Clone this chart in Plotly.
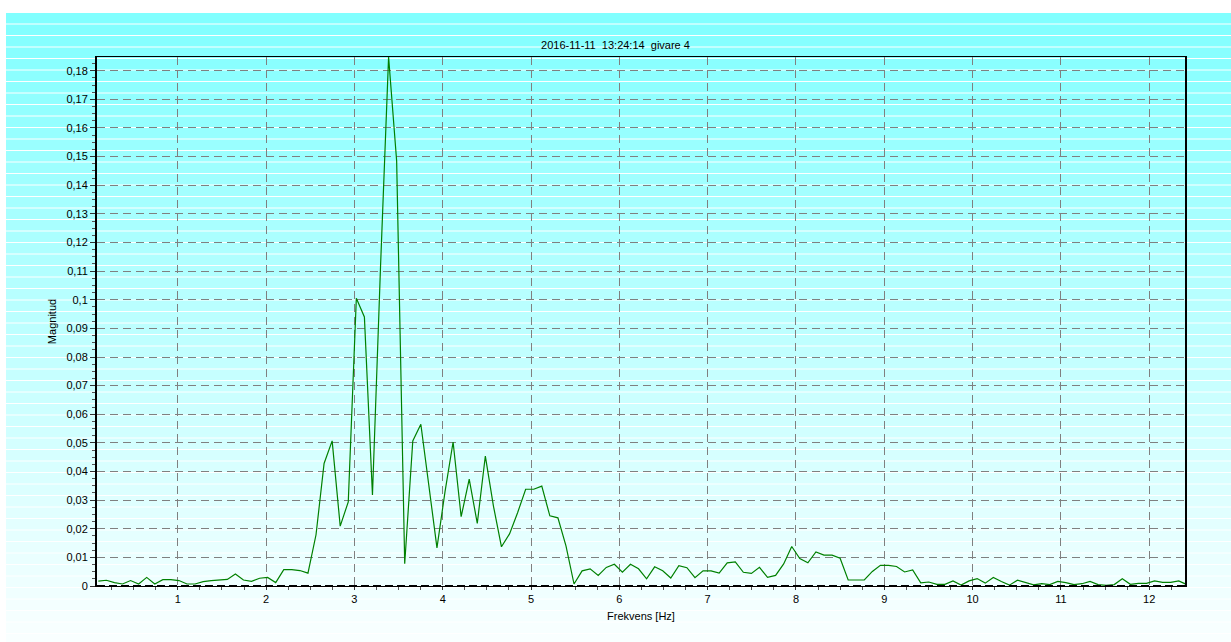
import plotly.graph_objects as go

# ---------------- data ----------------
title_text = "2016-11-11  13:24:14  givare 4"
x_title = "Frekvens [Hz]"
y_title = "Magnitud"

freq_start = 0.10      # Hz, first FFT bin shown
freq_step = 0.0913     # Hz, bin spacing

magnitude = [
    0.0017, 0.0020, 0.0012, 0.0007, 0.0019, 0.0007, 0.0030, 0.0007, 0.0022, 0.0022,
    0.0019, 0.0007, 0.0007, 0.0015, 0.0019, 0.0020, 0.0023, 0.0042, 0.0021, 0.0016,
    0.0027, 0.0030, 0.0012, 0.0057, 0.0057, 0.0054, 0.0045, 0.0179, 0.0428, 0.0507,
    0.0209, 0.0294, 0.1005, 0.0940, 0.0318, 0.1115, 0.1848, 0.1485, 0.0078, 0.0507,
    0.0565, 0.0350, 0.0133, 0.0330, 0.0503, 0.0242, 0.0373, 0.0219, 0.0454, 0.0280,
    0.0137, 0.0182, 0.0256, 0.0338, 0.0338, 0.0349, 0.0245, 0.0238, 0.0140, 0.0007,
    0.0053, 0.0060, 0.0037, 0.0065, 0.0076, 0.0048, 0.0076, 0.0060, 0.0025, 0.0067,
    0.0053, 0.0028, 0.0071, 0.0064, 0.0029, 0.0053, 0.0053, 0.0045, 0.0081, 0.0084,
    0.0048, 0.0044, 0.0065, 0.0030, 0.0037, 0.0077, 0.0138, 0.0096, 0.0081, 0.0119,
    0.0108, 0.0108, 0.0097, 0.0021, 0.0021, 0.0021, 0.0051, 0.0072, 0.0072, 0.0068,
    0.0049, 0.0056, 0.0011, 0.0014, 0.0006, 0.0006, 0.0018, 0.0003, 0.0018, 0.0026,
    0.0010, 0.0030, 0.0016, 0.0003, 0.0020, 0.0012, 0.0004, 0.0008, 0.0005, 0.0016,
    0.0012, 0.0005, 0.0008, 0.0016, 0.0005, 0.0002, 0.0005, 0.0025, 0.0006, 0.0009,
    0.0009, 0.0018, 0.0013, 0.0013, 0.0018, 0.0005,
]
frequency = [round(freq_start + i * freq_step, 4) for i in range(len(magnitude))]

x_tickvals = list(range(1, 13))
y_tickvals = [round(0.01 * k, 2) for k in range(19)]

# ---------------- layout geometry ----------------
W, H = 1231, 642
L, R, T, B = 97, 46, 57, 56
pw, ph = W - L - R, H - T - B


def px_to_paper_x(px):
    return (px - L) / pw


def px_to_paper_y(py):
    return (H - B - py) / ph


# banded cyan -> white background with thin white separators
shapes = []
band_h = 11.5
top = 12.0
while top < H:
    mid = top + band_h / 2
    frac = min(max((mid - 12) / (H - 12), 0), 1)
    r = int(round(128 + (250 - 128) * frac))
    shapes.append(dict(
        type="rect", xref="paper", yref="paper",
        x0=px_to_paper_x(6), x1=px_to_paper_x(W + 2),
        y0=px_to_paper_y(min(top + band_h, H + 2)), y1=px_to_paper_y(top + 1),
        fillcolor=f"rgb({r},255,255)", line=dict(width=0), layer="below",
    ))
    top += band_h

# dashed black line along the zero level
shapes.append(dict(
    type="line", xref="paper", yref="y", x0=0, x1=1, y0=0, y1=0,
    line=dict(color="black", width=2, dash="8px,4px"), layer="above",
))

fig = go.Figure()
fig.add_trace(go.Scatter(
    x=frequency, y=magnitude, mode="lines",
    line=dict(color="#008000", width=1.2),
    hoverinfo="x+y", showlegend=False,
))

font_family = "Liberation Sans, Arial, sans-serif"
grid_color = "#808080"

fig.update_layout(
    width=W, height=H,
    margin=dict(l=L, r=R, t=T, b=B, pad=0),
    paper_bgcolor="white",
    plot_bgcolor="rgba(0,0,0,0)",
    separators=", ",
    font=dict(family=font_family, size=11, color="black"),
    title=dict(text=title_text, x=0.5, xref="container", y=1 - 45 / H,
               yref="container", xanchor="center", yanchor="middle",
               font=dict(size=11, color="black")),
    shapes=shapes,
    showlegend=False,
)

fig.update_xaxes(
    range=[0.085, 12.405],
    tickmode="array", tickvals=x_tickvals,
    ticks="outside", ticklen=3, tickcolor="#333333",
    showgrid=True, gridcolor=grid_color, gridwidth=1, griddash="8px,5px",
    zeroline=False,
    showline=True, linecolor="black", linewidth=1, mirror=True,
    minor=dict(dtick=0.25, tick0=0, ticks="outside", ticklen=3,
               tickcolor="#555555", showgrid=False),
    title=dict(text=x_title, standoff=8, font=dict(size=11)),
    tickfont=dict(size=11),
)

fig.update_yaxes(
    range=[0, 0.1848],
    tickmode="array", tickvals=y_tickvals,
    ticks="outside", ticklen=5, tickcolor="#333333",
    showgrid=True, gridcolor=grid_color, gridwidth=1, griddash="8px,5px",
    zeroline=False,
    showline=True, linecolor="black", linewidth=2, mirror=True,
    minor=dict(dtick=0.0025, tick0=0, ticks="outside", ticklen=3,
               tickcolor="#555555", showgrid=False),
    title=dict(text=y_title, standoff=8, font=dict(size=11)),
    tickfont=dict(size=11),
)

fig.write_html("out.html", config={"displayModeBar": False},
               post_script="document.body.style.margin='0';")
